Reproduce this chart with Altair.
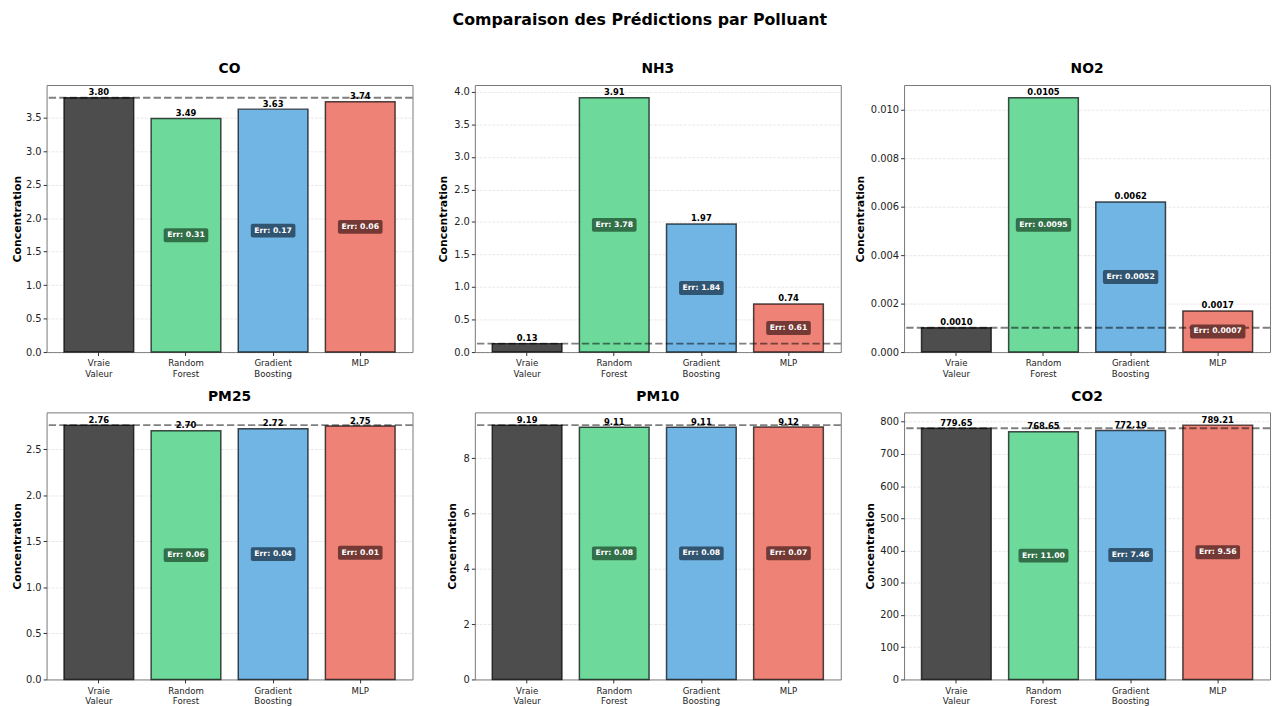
import altair as alt
import pandas as pd

# ---------------- data ----------------
pollutants = ["CO", "NH3", "NO2", "PM25", "PM10", "CO2"]
models = ["Vraie Valeur", "Random Forest", "Gradient Boosting", "MLP"]

true_vals = [3.80, 0.13, 0.0010, 2.76, 9.19, 779.65]
rf_vals = [3.49, 3.91, 0.0105, 2.70, 9.11, 768.65]
gb_vals = [3.63, 1.97, 0.0062, 2.72, 9.11, 772.19]
mlp_vals = [3.74, 0.74, 0.0017, 2.75, 9.12, 789.21]

rf_err = [0.31, 3.78, 0.0095, 0.06, 0.08, 11.00]
gb_err = [0.17, 1.84, 0.0052, 0.04, 0.08, 7.46]
mlp_err = [0.06, 0.61, 0.0007, 0.01, 0.07, 9.56]

y_ticks = [
    [0, 0.5, 1.0, 1.5, 2.0, 2.5, 3.0, 3.5],
    [0, 0.5, 1.0, 1.5, 2.0, 2.5, 3.0, 3.5, 4.0],
    [0, 0.002, 0.004, 0.006, 0.008, 0.010],
    [0, 0.5, 1.0, 1.5, 2.0, 2.5],
    [0, 2, 4, 6, 8],
    [0, 100, 200, 300, 400, 500, 600, 700, 800],
]
tick_formats = [".1f", ".1f", ".3f", ".1f", "d", "d"]
value_decimals = [2, 2, 4, 2, 2, 2]

# ---------------- styling ----------------
bar_fill = ["#4d4d4d", "#6dd99b", "#71b5e4", "#ee8276"]
box_fill = ["#2e6a45", "#2d4f69", "#6d3530"]
label_extent = [22.7, 24.7, 36.7, 22.7, 15.7, 26.7]   # y label block per panel
col_extent = [38.5, 50.5, 51.0]                         # left bound per column
PW, PH = 370, 270
ERR_FS = 7.8

CHAR_W = {d: 0.696 for d in "0123456789"}
CHAR_W.update({".": 0.380, "E": 0.683, "r": 0.493, ":": 0.400, " ": 0.348})


def text_width(s, fs):
    return sum(CHAR_W.get(c, 0.65) for c in s) * fs


def box_path(w, h, r=2.0):
    hw = w / 2.0
    u = 1.0
    hh = h / hw
    rc = r / hw
    return (
        f"M{-u + rc},{-hh} L{u - rc},{-hh} Q{u},{-hh} {u},{-hh + rc} "
        f"L{u},{hh - rc} Q{u},{hh} {u - rc},{hh} L{-u + rc},{hh} "
        f"Q{-u},{hh} {-u},{hh - rc} L{-u},{-hh + rc} Q{-u},{-hh} {-u + rc},{-hh} Z"
    )


def panel(i):
    vals = [true_vals[i], rf_vals[i], gb_vals[i], mlp_vals[i]]
    errs = [rf_err[i], gb_err[i], mlp_err[i]]
    d = value_decimals[i]
    df = pd.DataFrame({
        "model": models,
        "value": vals,
        "label": [f"{v:.{d}f}" for v in vals],
        "fill": bar_fill,
    })
    err_txt = [f"Err: {e:.{d}f}" for e in errs]
    widths = [text_width(t, ERR_FS) + 7 for t in err_txt]
    edf = pd.DataFrame({
        "model": models[1:],
        "mid": [v / 2 for v in vals[1:]],
        "err": err_txt,
        "box": box_fill,
        "shape": [box_path(w, 7.0) for w in widths],
        "size": [w * w for w in widths],
    })
    tdf = pd.DataFrame({"t": [true_vals[i]]})

    ymax = max(vals) * 1.05
    yscale = alt.Scale(domain=[0, ymax], nice=False, zero=True)
    yaxis = alt.Axis(
        values=y_ticks[i], format=tick_formats[i], title="Concentration",
        titleFontSize=11, titleFontWeight="bold", titleColor="#000",
        titlePadding=2, labelFontSize=10, labelColor="#222", labelPadding=2,
        tickSize=3.5, tickColor="#333", domain=False,
        minExtent=label_extent[i], maxExtent=label_extent[i],
        grid=True, gridDash=[3, 1.3], gridColor="#b0b0b0", gridOpacity=0.35,
        gridWidth=0.8,
    )
    xaxis = alt.Axis(
        title=None, labelAngle=0, labelFontSize=8.7, labelColor="#222",
        labelExpr="split(datum.label, ' ')", labelLineHeight=10.5,
        labelPadding=3.5, tickSize=3.5, tickColor="#333", domain=False,
        grid=False,
    )
    xenc = alt.X("model:N", sort=models,
                 scale=alt.Scale(paddingInner=0.2, paddingOuter=0.2), axis=xaxis)

    bars = alt.Chart(df).mark_bar(
        stroke="black", strokeOpacity=0.7, strokeWidth=1.5
    ).encode(
        x=xenc,
        y=alt.Y("value:Q", scale=yscale, axis=yaxis),
        fill=alt.Fill("fill:N", scale=None),
    )
    rule = alt.Chart(tdf).mark_rule(
        color="black", opacity=0.5, strokeWidth=2, strokeDash=[7.4, 3.2]
    ).encode(y=alt.Y("t:Q", scale=yscale, axis=yaxis))
    labels = alt.Chart(df).mark_text(
        fontSize=8.5, fontWeight="bold", baseline="bottom", dy=-0.5, color="black"
    ).encode(x=xenc, y=alt.Y("value:Q", scale=yscale, axis=yaxis), text="label:N")
    boxes = alt.Chart(edf).mark_point(
        filled=True, opacity=0.95, strokeWidth=0
    ).encode(
        x=xenc,
        y=alt.Y("mid:Q", scale=yscale, axis=yaxis),
        shape=alt.Shape("shape:N", scale=None),
        size=alt.Size("size:Q", scale=None),
        fill=alt.Fill("box:N", scale=None),
    )
    texts = alt.Chart(edf).mark_text(
        fontSize=ERR_FS, fontWeight="bold", color="white", baseline="middle"
    ).encode(x=xenc, y=alt.Y("mid:Q", scale=yscale, axis=yaxis), text="err:N")
    spacer = alt.Chart(tdf).mark_rule(strokeOpacity=0, strokeWidth=1).encode(
        x=alt.value(-col_extent[i % 3]), y=alt.value(0), y2=alt.value(1)
    )
    return alt.layer(bars, rule, labels, boxes, texts, spacer).properties(
        width=PW, height=PH,
        title=alt.TitleParams(
            pollutants[i], fontSize=14, fontWeight="bold", anchor="middle",
            frame="group", offset=9, color="#000",
        ),
    )


chart = alt.concat(
    *[panel(i) for i in range(6)], columns=3,
    spacing={"row": 10, "column": 10},
).properties(
    title=alt.TitleParams(
        "Comparaison des Prédictions par Polluant", fontSize=16,
        fontWeight="bold", anchor="middle", offset=34, color="#000",
    ),
    padding={"left": 0, "right": 0, "top": 0, "bottom": 0},
).configure(font="DejaVu Sans").configure_view(stroke="#777", strokeWidth=1)

chart.save("out.html", embed_options={"renderer": "svg", "actions": False})
